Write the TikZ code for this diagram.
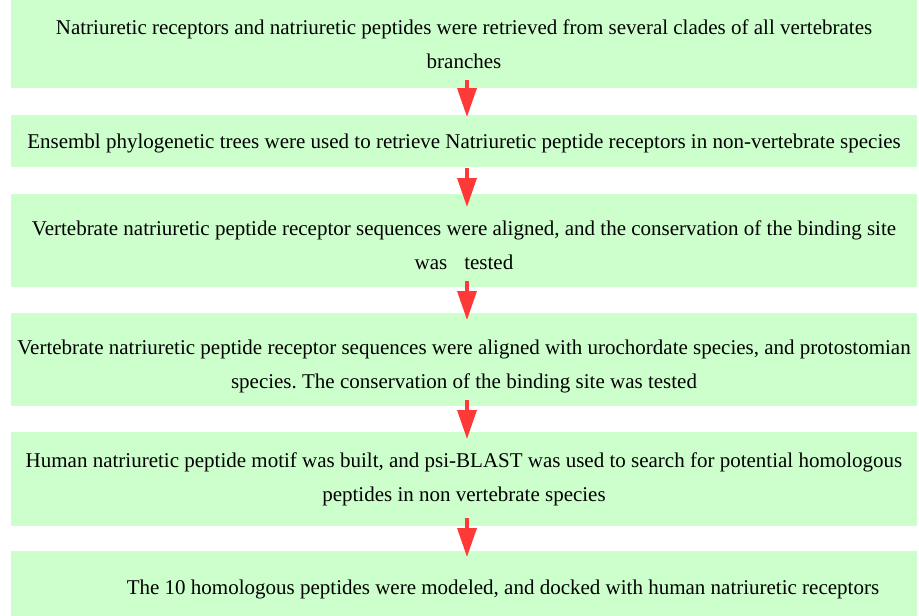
\documentclass[tikz,border=0pt]{standalone}
\usepackage{fontspec}
\setmainfont{Liberation Serif}
\usepackage{tikz}
\usetikzlibrary{arrows.meta,positioning}
\frenchspacing
\definecolor{stepgreen}{HTML}{CCFFCC}
\definecolor{flowred}{HTML}{FF3838}
\newcommand{\droptext}[1]{\rule{0pt}{#1}}
\tikzset{
    stepbox/.style={fill=stepgreen,draw=none,minimum width=906pt,
      inner xsep=3pt,inner ysep=0pt,outer sep=0pt,align=center,
      font=\fontsize{21pt}{34pt}\selectfont},
    flowarrow/.style={-{Triangle[length=29pt,width=19pt]},draw=flowred,
      line width=3.5pt}
}
\begin{document}
\begin{tikzpicture}
    \useasboundingbox (0pt,0pt) rectangle (919pt,-616pt);
    \node[stepbox,minimum height=88pt] (retrieve) at (464pt,-44pt)
      {Natriuretic receptors and natriuretic peptides were retrieved from several clades of all vertebrates\\branches};
    \node[stepbox,minimum height=52pt,below=27pt of retrieve] (ensembl)
      {\droptext{20.5pt}Ensembl phylogenetic trees were used to retrieve Natriuretic peptide receptors in non-vertebrate species};
    \node[stepbox,minimum height=93pt,below=27pt of ensembl] (aligned)
      {\droptext{24.5pt}Vertebrate natriuretic peptide receptor sequences were aligned, and the conservation of the binding site\\was\hspace*{17pt}tested};
    \node[stepbox,minimum height=93pt,below=26pt of aligned] (urochord)
      {\droptext{28.5pt}Vertebrate natriuretic peptide receptor sequences were aligned with urochordate species, and protostomian\\species. The conservation of the binding site was tested};
    \node[stepbox,minimum height=94pt,below=26pt of urochord] (motif)
      {Human natriuretic peptide motif was built, and psi-BLAST was used to search for potential homologous\\peptides in non vertebrate species};
    \node[stepbox,minimum height=72pt,below=25pt of motif] (docking)
      {\hspace*{78pt}\droptext{20.5pt}The 10 homologous peptides were modeled, and docked with human natriuretic receptors};
    \draw[flowarrow] ([xshift=3pt,yshift=8pt]retrieve.south) -- ([xshift=3pt,yshift=-2pt]ensembl.north);
    \draw[flowarrow] ([xshift=3pt,yshift=-1pt]ensembl.south) -- ([xshift=3pt,yshift=-13pt]aligned.north);
    \draw[flowarrow] ([xshift=3pt,yshift=6pt]aligned.south) -- ([xshift=3pt,yshift=-7pt]urochord.north);
    \draw[flowarrow] ([xshift=3pt,yshift=6pt]urochord.south) -- ([xshift=3pt,yshift=-7pt]motif.north);
    \draw[flowarrow] ([xshift=3pt,yshift=8pt]motif.south) -- ([xshift=3pt,yshift=-6pt]docking.north);
\end{tikzpicture}
\end{document}
